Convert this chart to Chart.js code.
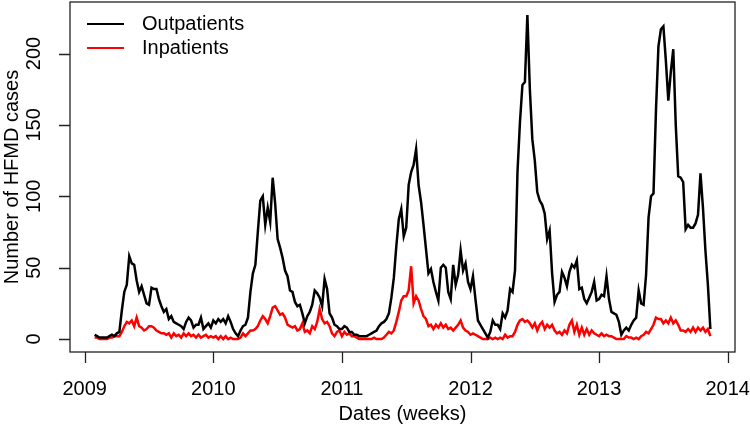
<!DOCTYPE html>
<html>
<head>
<meta charset="utf-8">
<script src="https://cdn.jsdelivr.net/npm/chart.js@4.4.1/dist/chart.umd.min.js"></script>
<style>
  html, body { margin: 0; padding: 0; background: #fff; }
  #wrap { width: 750px; height: 427px; }
</style>
</head>
<body>
<div id="wrap"><canvas id="chart" width="750" height="427"></canvas></div>
<script>
// weekly HFMD counts, 2009 week 5 .. 2013 week 46
const firstWeekIndex = 4;   // weeks after 1 Jan 2009 of the first value

const outpatients2009 = [3, 2, 1, 1, 1, 1, 2, 3, 2, 4, 5, 20, 33, 38, 58, 53, 52, 41, 33, 37,
  31, 25, 24, 36, 35, 35, 28, 23, 19, 21, 14, 16, 12, 11, 10, 9, 7, 12, 15, 13, 8, 10, 10, 15, 7, 9, 11, 8];
const outpatients2010 = [13, 11, 14, 12, 14, 11, 16, 12, 7, 4, 2, 6, 9, 10, 15, 33, 46, 52, 75, 97,
  100, 80, 92, 82, 113, 95, 70, 64, 57, 48, 44, 34, 33, 26, 23, 24, 18, 11, 16, 19,
  24, 34, 32, 29, 23, 42, 35, 18, 15, 10, 9, 7];
const outpatients2011 = [7, 9, 8, 5, 5, 3, 3, 2, 2, 2, 2, 3, 4, 5, 6, 9, 11, 12, 14, 18,
  29, 43, 65, 84, 91, 72, 78, 108, 117, 122, 133, 108, 96, 80, 63, 46, 49, 40, 33, 27,
  50, 52, 50, 33, 28, 52, 38, 45, 62, 48, 53, 40];
const outpatients2012 = [35, 44, 28, 13, 10, 7, 4, 1, 5, 13, 10, 10, 7, 18, 15, 20, 35, 33, 48, 117,
  152, 178, 180, 227, 175, 140, 125, 103, 97, 94, 88, 70, 76, 46, 26, 31, 33, 47, 43, 37,
  47, 52, 50, 55, 35, 36, 28, 25, 29, 33, 40, 27];
const outpatients2013 = [28, 31, 30, 44, 28, 19, 18, 17, 12, 3, 6, 8, 6, 10, 13, 15, 34, 25, 24, 45,
  85, 100, 102, 160, 205, 217, 219, 195, 167, 187, 203, 150, 114, 113, 110, 77, 80, 78, 78, 81,
  87, 116, 92, 62, 38, 7];

const inpatients2009 = [1, 1, 0, 0, 0, 0, 1, 1, 2, 2, 2, 5, 9, 12, 11, 13, 9, 15, 9, 8,
  6, 7, 9, 9, 8, 6, 5, 4, 4, 3, 4, 1, 4, 2, 3, 1, 4, 2, 4, 2, 3, 1, 3, 1, 2, 3, 1, 2];
const inpatients2010 = [1, 2, 0, 2, 0, 2, 0, 1, 0, 0, 0, 1, 4, 2, 4, 6, 6, 7, 9, 13,
  16, 14, 11, 16, 22, 23, 20, 17, 18, 15, 10, 9, 8, 9, 6, 7, 11, 5, 6, 4,
  9, 7, 12, 21, 14, 11, 12, 9, 4, 2, 5, 6];
const inpatients2011 = [2, 5, 3, 4, 2, 2, 1, 0, 0, 0, 0, 0, 0, 1, 0, 0, 0, 1, 3, 5,
  4, 6, 12, 19, 27, 30, 30, 34, 51, 25, 30, 27, 21, 16, 14, 9, 10, 7, 10, 8,
  11, 8, 10, 7, 8, 6, 8, 10, 13, 8, 6, 5];
const inpatients2012 = [3, 4, 3, 2, 1, 0, 0, 0, 1, 0, 1, 0, 1, 0, 3, 1, 2, 2, 5, 10,
  13, 14, 12, 13, 11, 8, 11, 6, 10, 12, 7, 10, 8, 10, 6, 4, 5, 3, 6, 4,
  10, 13, 5, 10, 3, 8, 3, 7, 3, 6, 4, 3];
const inpatients2013 = [2, 4, 2, 3, 2, 2, 1, 0, 0, 0, 0, 2, 1, 1, 0, 1, 0, 2, 3, 5,
  4, 7, 10, 15, 14, 14, 11, 13, 11, 15, 11, 13, 10, 6, 6, 5, 7, 5, 8, 5,
  8, 6, 8, 5, 7, 2];

const yearTicks = [2009, 2010, 2011, 2012, 2013, 2014];
const countTicks = [0, 50, 100, 150, 200];
const seriesNames = ['Outpatients', 'Inpatients'];
const seriesColors = ['#000000', '#ff0000'];

const outpatients = [].concat(outpatients2009, outpatients2010, outpatients2011, outpatients2012, outpatients2013);
const inpatients = [].concat(inpatients2009, inpatients2010, inpatients2011, inpatients2012, inpatients2013);

// week index -> decimal year
function toPoints(values) {
  return values.map((v, i) => ({ x: 2009 + (firstWeekIndex + i) / 52, y: v }));
}

// R style axis range: data range padded by 4% each side
function padRange(lo, hi) {
  const d = (hi - lo) * 0.04;
  return [lo - d, hi + d];
}

const xFirst = 2009 + firstWeekIndex / 52;
const xLast = 2009 + (firstWeekIndex + outpatients.length - 1) / 52;
const xRange = padRange(xFirst, xLast);
const yRange = padRange(0, Math.max(...outpatients));

const FONT = '20px "Liberation Sans", Arial, sans-serif';

// draws the box, axes, titles and legend the way base R does
const rFrame = {
  id: 'rFrame',
  afterDraw(chart) {
    const ctx = chart.ctx;
    const a = chart.chartArea;
    const xs = chart.scales.x;
    const ys = chart.scales.y;
    ctx.save();
    ctx.strokeStyle = '#222';
    ctx.fillStyle = '#000';
    ctx.lineWidth = 1.3;
    ctx.strokeRect(a.left, a.top, a.right - a.left, a.bottom - a.top);

    ctx.font = FONT;
    // x axis
    ctx.beginPath();
    yearTicks.forEach(t => {
      const px = Math.round(xs.getPixelForValue(t)) + 0.5;
      ctx.moveTo(px, a.bottom);
      ctx.lineTo(px, a.bottom + 11);
    });
    ctx.stroke();
    ctx.textAlign = 'center';
    ctx.textBaseline = 'middle';
    yearTicks.forEach(t => {
      ctx.fillText(String(t), xs.getPixelForValue(t), a.bottom + 37);
    });
    ctx.fillText('Dates (weeks)', (a.left + a.right) / 2, a.bottom + 62);

    // y axis
    ctx.beginPath();
    countTicks.forEach(t => {
      const py = Math.round(ys.getPixelForValue(t)) + 0.5;
      ctx.moveTo(a.left, py);
      ctx.lineTo(a.left - 11, py);
    });
    ctx.stroke();
    countTicks.forEach(t => {
      ctx.save();
      ctx.translate(a.left - 36, ys.getPixelForValue(t));
      ctx.rotate(-Math.PI / 2);
      ctx.fillText(String(t), 0, 0);
      ctx.restore();
    });
    ctx.save();
    ctx.translate(12, (a.top + a.bottom) / 2);
    ctx.rotate(-Math.PI / 2);
    ctx.fillText('Number of HFMD cases', 0, 0);
    ctx.restore();

    // legend (no box)
    ctx.textAlign = 'left';
    chart.data.datasets.forEach((ds, i) => {
      const ly = 24 + i * 24;
      ctx.strokeStyle = ds.borderColor;
      ctx.lineWidth = 2;
      ctx.beginPath();
      ctx.moveTo(87, ly);
      ctx.lineTo(124, ly);
      ctx.stroke();
      ctx.fillStyle = '#000';
      ctx.fillText(ds.label, 142, ly);
    });
    ctx.restore();
  }
};

new Chart(document.getElementById('chart').getContext('2d'), {
  type: 'line',
  data: {
    datasets: [
      { label: seriesNames[0], data: toPoints(outpatients), borderColor: seriesColors[0], borderWidth: 2.5 },
      { label: seriesNames[1], data: toPoints(inpatients), borderColor: seriesColors[1], borderWidth: 2.5 }
    ]
  },
  options: {
    responsive: false,
    animation: false,
    layout: { padding: { left: 70, right: 15, top: 2, bottom: 75 } },
    elements: { point: { radius: 0 }, line: { tension: 0, fill: false } },
    scales: {
      x: { type: 'linear', min: xRange[0], max: xRange[1], display: false },
      y: { type: 'linear', min: yRange[0], max: yRange[1], display: false }
    },
    plugins: { legend: { display: false }, tooltip: { enabled: false } }
  },
  plugins: [rFrame]
});
</script>
</body>
</html>
